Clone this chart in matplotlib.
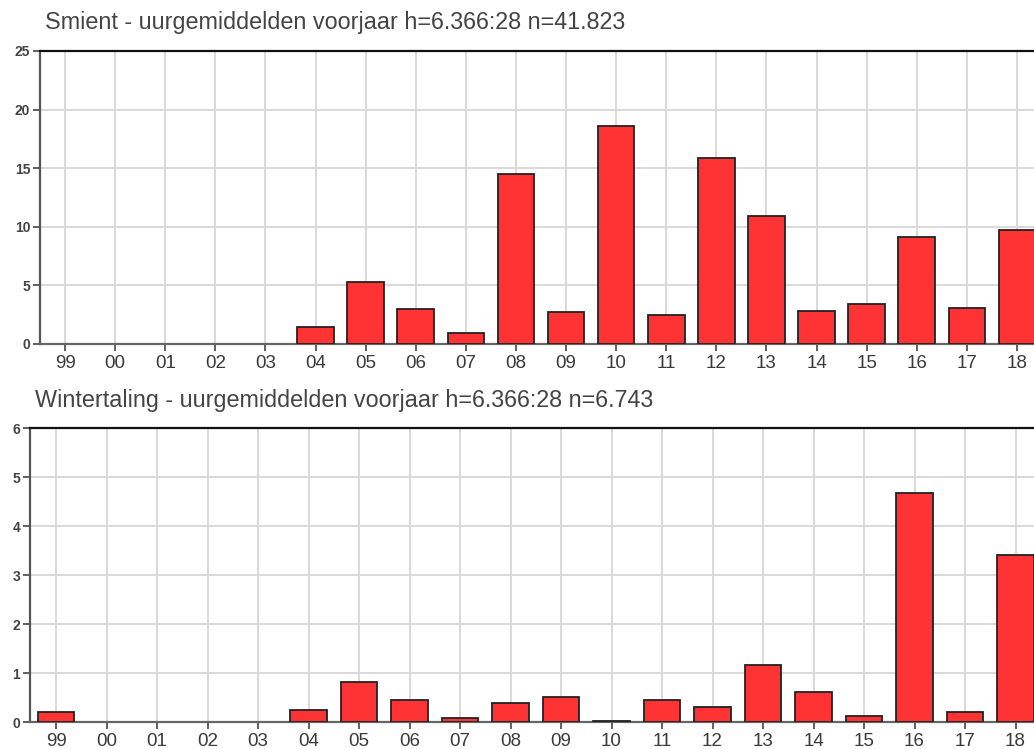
import matplotlib
matplotlib.use("Agg")
import matplotlib.pyplot as plt
import numpy as np

# hours (uur) on the x axis
hours = ["99", "00", "01", "02", "03", "04", "05", "06", "07", "08",
         "09", "10", "11", "12", "13", "14", "15", "16", "17", "18"]

smient = [0, 0, 0, 0, 0, 1.45, 5.25, 2.95, 0.9, 14.5,
          2.7, 18.6, 2.45, 15.9, 10.9, 2.8, 3.35, 9.1, 3.05, 9.75]
smient_title = "Smient - uurgemiddelden voorjaar h=6.366:28 n=41.823"
smient_yticks = [0, 5, 10, 15, 20, 25]

wintertaling = [0.21, 0, 0, 0, 0, 0.245, 0.83, 0.455, 0.09, 0.39,
                0.52, 0.03, 0.455, 0.31, 1.17, 0.62, 0.12, 4.68, 0.21, 3.41]
winter_title = "Wintertaling - uurgemiddelden voorjaar h=6.366:28 n=6.743"
winter_yticks = [0, 1, 2, 3, 4, 5, 6]

plt.rcParams['font.family'] = ['Liberation Sans', 'DejaVu Sans']

W, H = 1034, 749
fig = plt.figure(figsize=(W / 100, H / 100), dpi=100)


def panel(left_px, top_px, zero_px, spacing, xmin, values, yticks, title, title_x, title_y):
    x = np.arange(len(hours))
    xmax = 19.6
    width_px = (xmax - xmin) * spacing
    ax = fig.add_axes([left_px / W, 1 - zero_px / H, width_px / W, (zero_px - top_px) / H])
    ax.set_axisbelow(True)
    # empty hours get no outline
    lws = [1.3 if v > 0 else 0 for v in values]
    ax.bar(x, values, width=0.73, color="#ff3333", edgecolor="#222222", linewidth=lws, zorder=3)
    ax.set_xlim(xmin, xmax)
    ax.set_ylim(0, yticks[-1])
    ax.set_xticks(x)
    ax.set_xticklabels(hours, fontsize=13.5, color="#3a3a3a")
    ax.set_yticks(yticks)
    ax.set_yticklabels([str(t) for t in yticks], fontsize=10, fontweight="bold", color="#444444")
    ax.grid(True, color="#d9d9d9", linewidth=1.4)
    ax.tick_params(axis="x", length=5, width=1.2, color="#444444", pad=3)
    ax.tick_params(axis="y", length=5, width=1.2, color="#444444", pad=2)
    ax.spines["right"].set_visible(False)
    ax.spines["top"].set_color("#111111")
    ax.spines["top"].set_linewidth(1.6)
    ax.spines["left"].set_color("#555555")
    ax.spines["left"].set_linewidth(1.6)
    ax.spines["bottom"].set_color("#666666")
    ax.spines["bottom"].set_linewidth(1.6)
    fig.text(title_x / W, 1 - title_y / H, title, fontsize=16.8, color="#444444",
             ha="left", va="center")
    return ax


panel(40, 51, 343.7, 50.1, -0.5, smient, smient_yticks, smient_title, 45, 22)
panel(30, 428.3, 722.3, 50.5, -0.515, wintertaling, winter_yticks, winter_title, 35, 400)

fig.savefig("out.png", dpi=100)
